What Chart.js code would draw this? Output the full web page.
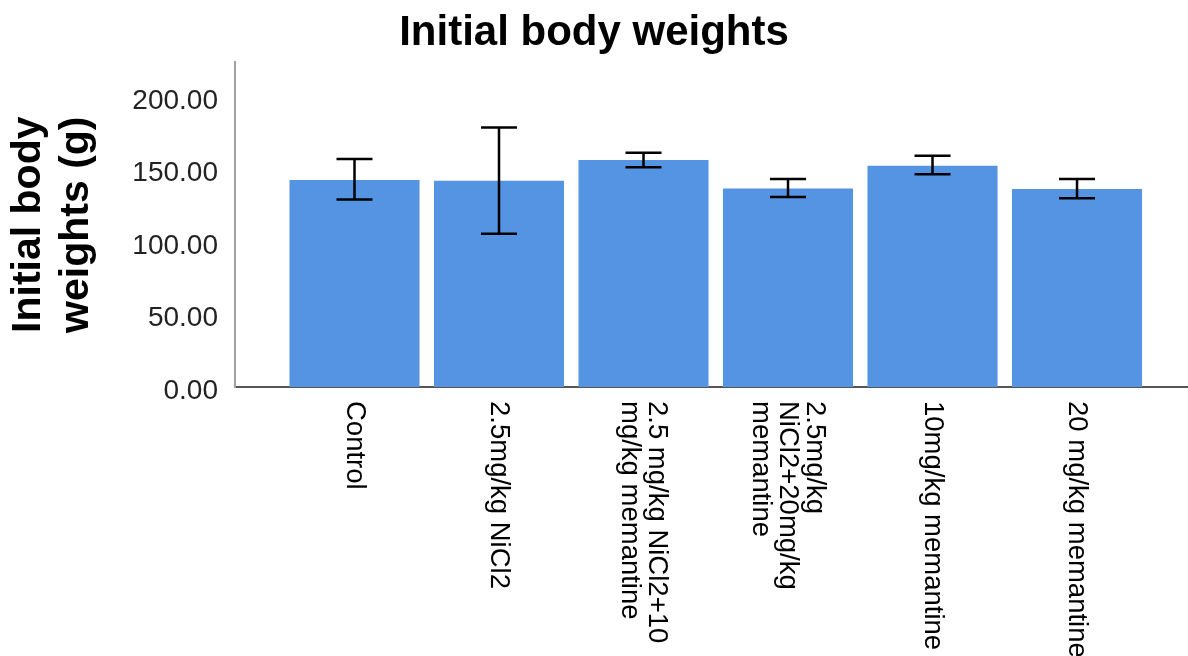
<!DOCTYPE html>
<html>
<head>
<meta charset="UTF-8">
<title>Initial body weights</title>
<script src="https://cdn.jsdelivr.net/npm/chart.js"></script>
<style>
    body { margin: 0; background: #fff; }
</style>
</head>
<body>
<canvas id="weightChart" width="1188" height="656"></canvas>
<script>
    // Groups (each label already split into its lines)
    const groups = [
        ["Control"],
        ["2.5mg/kg NiCl2"],
        ["2.5 mg/kg NiCl2+10", "mg/kg memantine"],
        ["2.5mg/kg", "NiCl2+20mg/kg", "memantine"],
        ["10mg/kg memantine"],
        ["20 mg/kg memantine"]
    ];
    // Mean weights and error bar ends (g)
    const means = [142.8, 142.4, 156.6, 137.0, 152.7, 136.7];
    const errLow = [129.4, 105.8, 151.6, 131.2, 146.9, 130.3];
    const errHigh = [157.3, 179.0, 161.7, 143.5, 159.6, 143.5];
    const yTicks = [0, 50, 100, 150, 200];

    const FONT = "'Liberation Sans', Arial, sans-serif";

    // Draws the error bars on top of the bars
    const errorBars = {
        id: "errorBars",
        afterDatasetsDraw(chart) {
            const ctx = chart.ctx;
            const y = chart.scales.y;
            const bars = chart.getDatasetMeta(0).data;
            ctx.save();
            ctx.strokeStyle = "#000";
            ctx.lineWidth = 2.5;
            bars.forEach((bar, i) => {
                const top = y.getPixelForValue(errHigh[i]);
                const bottom = y.getPixelForValue(errLow[i]);
                const half = 18;
                ctx.beginPath();
                ctx.moveTo(bar.x, top);
                ctx.lineTo(bar.x, bottom);
                ctx.moveTo(bar.x - half, top);
                ctx.lineTo(bar.x + half, top);
                ctx.moveTo(bar.x - half, bottom);
                ctx.lineTo(bar.x + half, bottom);
                ctx.stroke();
            });
            ctx.restore();
        }
    };

    // Category labels, turned clockwise so they read top to bottom
    const groupLabels = {
        id: "groupLabels",
        afterDraw(chart) {
            const ctx = chart.ctx;
            const x = chart.scales.x;
            const lineHeight = 27;
            ctx.save();
            ctx.fillStyle = "#000";
            ctx.font = "27.5px " + FONT;
            ctx.textAlign = "left";
            ctx.textBaseline = "middle";
            groups.forEach((lines, i) => {
                ctx.save();
                ctx.translate(x.getPixelForValue(i), chart.chartArea.bottom + 14);
                ctx.rotate(Math.PI / 2);
                lines.forEach((line, k) => {
                    ctx.fillText(line, 0, (k - (lines.length - 1) / 2) * lineHeight);
                });
                ctx.restore();
            });
            ctx.restore();
        }
    };

    const context = document.getElementById("weightChart").getContext("2d");
    new Chart(context, {
        type: "bar",
        data: {
            datasets: [{
                data: means.map((v, i) => ({ x: i, y: v })),
                backgroundColor: "#5594e3",
                borderWidth: 0,
                categoryPercentage: 1,
                barPercentage: 0.9
            }]
        },
        options: {
            responsive: false,
            animation: false,
            layout: { padding: { left: 0, right: 0, top: 0, bottom: 261 } },
            scales: {
                x: {
                    type: "linear",
                    offset: false,
                    min: -0.827,
                    max: 5.768,
                    grid: { display: false },
                    ticks: { display: false },
                    border: { color: "#555", width: 2 },
                    afterBuildTicks: (scale) => {
                        scale.ticks = groups.map((g, i) => ({ value: i }));
                    }
                },
                y: {
                    min: 0,
                    max: 224,
                    grid: { display: false },
                    border: { color: "#a0a0a0", width: 2 },
                    ticks: {
                        padding: 9,
                        labelOffset: 4,
                        color: "#222",
                        font: { family: FONT, size: 28 },
                        callback: (v) => Number(v).toFixed(2)
                    },
                    afterBuildTicks: (scale) => {
                        scale.ticks = yTicks.map(v => ({ value: v }));
                    },
                    afterFit: (scale) => { scale.width = 235; },
                    title: {
                        display: true,
                        text: ["Initial body", "weights (g)"],
                        color: "#000",
                        font: { family: FONT, size: 41, weight: "bold", lineHeight: 1.17 },
                        padding: { top: 5, bottom: 0 }
                    }
                }
            },
            plugins: {
                legend: { display: false },
                tooltip: { enabled: false },
                title: {
                    display: true,
                    text: "Initial body weights",
                    color: "#000",
                    font: { family: FONT, size: 42, weight: "bold" },
                    padding: { top: 8, bottom: 4 }
                }
            }
        },
        plugins: [errorBars, groupLabels]
    });
</script>
</body>
</html>
